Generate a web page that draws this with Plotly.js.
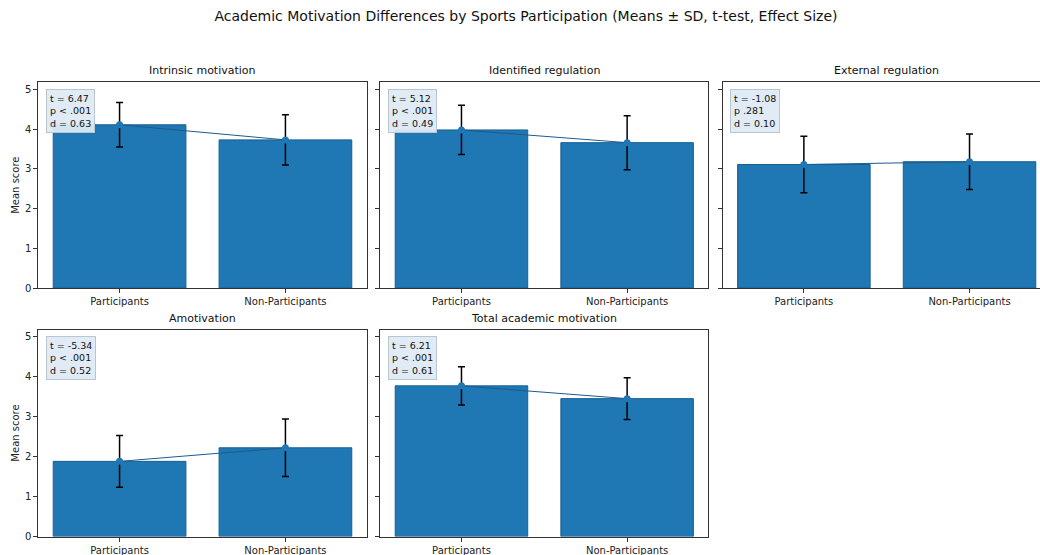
<!DOCTYPE html>
<html>
<head>
<meta charset="utf-8">
<script src="https://cdn.plot.ly/plotly-3.0.1.min.js"></script>
<style>
  html, body { margin: 0; padding: 0; background: #ffffff; overflow: hidden; }
  #chart { width: 1052px; height: 555px; }
</style>
</head>
<body>
<div id="chart"></div>
<script>
// Group labels and motivation subscales
const groups = ["Participants", "Non-Participants"];
const scales = ["Intrinsic motivation", "Identified regulation", "External regulation",
                "Amotivation", "Total academic motivation"];

// Means and standard deviations per subscale
const partMeans = [4.11, 3.98, 3.11, 1.88, 3.77];
const partSD    = [0.56, 0.62, 0.71, 0.65, 0.48];
const nonMeans  = [3.73, 3.66, 3.18, 2.22, 3.45];
const nonSD     = [0.63, 0.68, 0.70, 0.72, 0.52];

// Test statistics per subscale
const tStats  = ["6.47", "5.12", "-1.08", "-5.34", "6.21"];
const pLabels = ["p &lt; .001", "p &lt; .001", "p .281", "p &lt; .001", "p &lt; .001"];
const dStats  = ["0.63", "0.49", "0.10", "0.52", "0.61"];

const yTicks = [0, 1, 2, 3, 4, 5];

// Panel geometry in pixels
const W = 1052, H = 555;
const colEdges = [[38.3, 366.7], [380.3, 708.3], [722.7, 1050.7]];
const rowEdges = [[82.3, 288.0], [329.5, 536.5]];

const BAR = "#1f77b4";
const BAR_EDGE = "#185f92";
const LINE = "#1d5a8e";
const AXIS = "#333333";
const FONT = "DejaVu Sans, sans-serif";

const traces = [];
const layout = {
  width: W, height: H,
  margin: {l: 0, r: 0, t: 0, b: 0},
  paper_bgcolor: "#ffffff",
  plot_bgcolor: "#ffffff",
  showlegend: false,
  font: {family: FONT, size: 10, color: "#222222"},
  annotations: [],
  title: {
    text: "Academic Motivation Differences by Sports Participation (Means ± SD, t-test, Effect Size)",
    font: {family: FONT, size: 14, color: "#111111"},
    x: 0.5, xanchor: "center", xref: "paper",
    y: 1 - 16 / H, yanchor: "middle", yref: "container"
  }
};

scales.forEach((name, i) => {
  const row = Math.floor(i / 3), col = i % 3;
  const n = i + 1;
  const xa = "x" + (n === 1 ? "" : n), ya = "y" + (n === 1 ? "" : n);
  const xKey = "xaxis" + (n === 1 ? "" : n), yKey = "yaxis" + (n === 1 ? "" : n);
  const [x0, x1] = colEdges[col];
  const [yt, yb] = rowEdges[row];

  const means = [partMeans[i], nonMeans[i]];
  const sds = [partSD[i], nonSD[i]];

  traces.push({
    type: "bar", x: groups, y: means, xaxis: xa, yaxis: ya,
    width: 0.8,
    marker: {color: BAR, line: {color: BAR_EDGE, width: 1}},
    error_y: {type: "data", array: sds, visible: true, color: "#000000", thickness: 1.5, width: 3.5},
    hoverinfo: "skip"
  });
  traces.push({
    type: "scatter", mode: "lines+markers", x: groups, y: means, xaxis: xa, yaxis: ya,
    line: {color: LINE, width: 1},
    marker: {color: BAR, size: 7},
    hoverinfo: "skip"
  });

  layout[xKey] = {
    domain: [x0 / W, x1 / W], anchor: ya,
    type: "category", range: [-0.49, 1.49],
    showline: true, linecolor: AXIS, linewidth: 1, mirror: true,
    ticks: "outside", ticklen: 4, tickcolor: AXIS,
    showgrid: false, zeroline: false,
    tickfont: {family: FONT, size: 10, color: "#222222"}
  };
  layout[yKey] = {
    domain: [1 - yb / H, 1 - yt / H], anchor: xa,
    range: [0, 5.18], tickvals: yTicks,
    showline: true, linecolor: AXIS, linewidth: 1, mirror: true,
    ticks: "outside", ticklen: 4, tickcolor: AXIS,
    showgrid: false, zeroline: false,
    showticklabels: col === 0,
    tickfont: {family: FONT, size: 10, color: "#222222"},
    title: col === 0 ? {text: "Mean score", font: {family: FONT, size: 10, color: "#222222"}, standoff: 3} : {text: ""}
  };

  // Subplot title
  layout.annotations.push({
    text: name, xref: "paper", yref: "paper",
    x: (x0 + x1) / 2 / W, y: 1 - (yt - 3) / H,
    xanchor: "center", yanchor: "bottom", showarrow: false,
    font: {family: FONT, size: 11, color: "#111111"}
  });

  // Statistics box
  layout.annotations.push({
    text: "t = " + tStats[i] + "<br>" + pLabels[i] + "<br>d = " + dStats[i],
    xref: xa + " domain", yref: ya + " domain",
    x: 7.5 / (x1 - x0), y: 1 - 6.5 / (yb - yt),
    xanchor: "left", yanchor: "top", align: "left", showarrow: false,
    font: {family: FONT, size: 9.5, color: "#111111"},
    bgcolor: "rgba(222,234,244,0.95)", bordercolor: "#b9c6d0", borderwidth: 1, borderpad: 3
  });
});

Plotly.newPlot("chart", traces, layout, {displayModeBar: false, staticPlot: true});
</script>
</body>
</html>
